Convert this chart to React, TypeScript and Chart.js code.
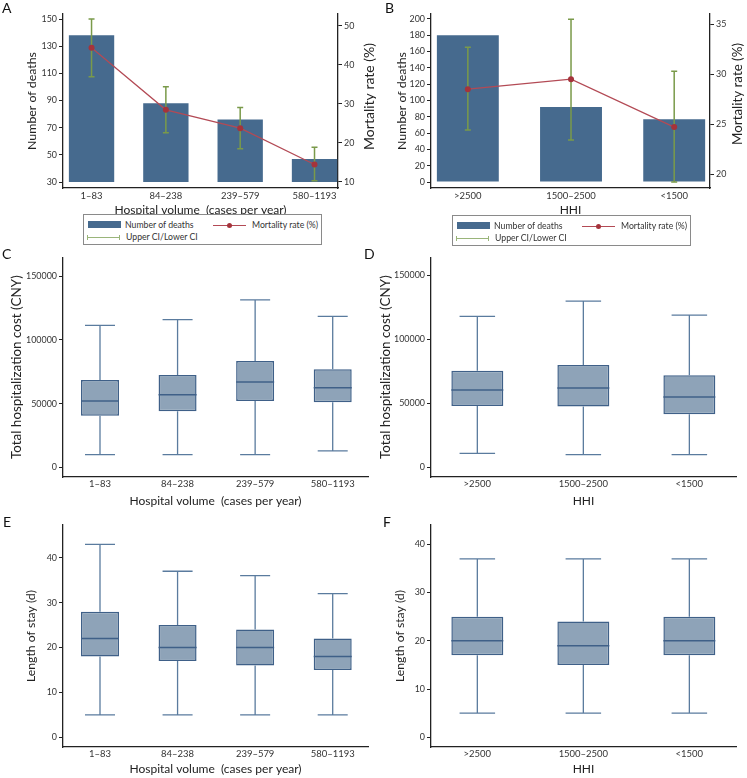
import React, { useEffect, useRef } from "react";
import { Chart, registerables } from "chart.js";
Chart.register(...registerables);

const FONT = "Lato, 'Noto Sans', sans-serif";

// ---------- data ----------
const volumeCats = ["1–83", "84–238", "239–579", "580–1193"];
const hhiCats = [">2500", "1500–2500", "<1500"];

const deathsA = [138, 88, 76, 47];
const mortA = [44.4, 28.5, 23.8, 14.5];
const ciLowA = [37.0, 22.6, 18.5, 10.3];
const ciHighA = [51.8, 34.4, 29.1, 18.9];

const deathsB = [180, 92, 77];
const mortB = [28.5, 29.5, 24.7];
const ciLowB = [24.4, 23.4, 19.2];
const ciHighB = [32.7, 35.5, 30.3];

const costVolMin = [10000, 10000, 10000, 13000];
const costVolQ1 = [40500, 44000, 52000, 51000];
const costVolMed = [52000, 57000, 67000, 62500];
const costVolQ3 = [68500, 72500, 83500, 77000];
const costVolMax = [111500, 116000, 131500, 118500];

const costHhiMin = [11000, 10000, 10000];
const costHhiQ1 = [48000, 47500, 41500];
const costHhiMed = [60500, 62000, 55000];
const costHhiQ3 = [75500, 80000, 72000];
const costHhiMax = [118000, 130000, 119000];

const losVolMin = [5, 5, 5, 5];
const losVolQ1 = [18, 17, 16, 15];
const losVolMed = [22, 20, 20, 18];
const losVolQ3 = [28, 25, 24, 22];
const losVolMax = [43, 37, 36, 32];

const losHhiMin = [5, 5, 5];
const losHhiQ1 = [17, 15, 17];
const losHhiMed = [20, 19, 20];
const losHhiQ3 = [25, 24, 25];
const losHhiMax = [37, 37, 37];

const ticksDeathsA = [30, 50, 70, 90, 110, 130, 150];
const ticksMortA = [10, 20, 30, 40, 50];
const ticksDeathsB = [0, 20, 40, 60, 80, 100, 120, 140, 160, 180, 200];
const ticksMortB = [20, 25, 30, 35];
const ticksCost = [0, 50000, 100000, 150000];
const ticksLos = [0, 10, 20, 30, 40];

const VOL_TITLE = "Hospital volume  (cases per year)";
const HHI_TITLE = "HHI";
const DEATHS_TITLE = "Number of deaths";
const MORT_TITLE = "Mortality rate (%)";
const COST_TITLE = "Total hospitalization cost (CNY)";
const LOS_TITLE = "Length of stay (d)";

// ---------- styles ----------
const BAR = "#466a8e";
const LINE_RED = "#b34a55";
const DOT_RED = "#a5333b";
const CI_GREEN = "#7a9a4a";
const CI_LEGEND = "#9ab57a";
const BOX_FILL = "#8ea3b8";
const BOX_EDGE = "#3f6088";
const WHISKER = "#5a7b9e";
const AXIS = "#222";
const TXT = "#333";

// font size so that a text gets a given rendered width
let measureCtx: CanvasRenderingContext2D | null = null;
function fit(text: string, width: number): number {
  if (!measureCtx) measureCtx = document.createElement("canvas").getContext("2d");
  if (!measureCtx) return 12;
  measureCtx.font = `100px ${FONT}`;
  const w = measureCtx.measureText(text).width;
  return (100 * width) / w;
}

// ---------- plugins ----------
const ciPlugin = {
  id: "ciBars",
  afterDatasetDraw(chart: any, args: any, opts: any) {
    if (!opts || !opts.low || args.index !== opts.afterIndex) return;
    const ctx = chart.ctx;
    const xs = chart.scales.x;
    const ys = chart.scales[opts.yAxis];
    ctx.save();
    ctx.strokeStyle = opts.color;
    ctx.lineWidth = opts.lineWidth;
    opts.low.forEach((lo: number, i: number) => {
      const x = xs.getPixelForValue(i);
      const y1 = ys.getPixelForValue(lo);
      const y2 = ys.getPixelForValue(opts.high[i]);
      ctx.beginPath();
      ctx.moveTo(x, y1);
      ctx.lineTo(x, y2);
      ctx.moveTo(x - opts.cap / 2, y1);
      ctx.lineTo(x + opts.cap / 2, y1);
      ctx.moveTo(x - opts.cap / 2, y2);
      ctx.lineTo(x + opts.cap / 2, y2);
      ctx.stroke();
    });
    ctx.restore();
  },
};

const boxPlugin = {
  id: "boxParts",
  afterDatasetsDraw(chart: any, _args: any, opts: any) {
    if (!opts || !opts.med) return;
    const ctx = chart.ctx;
    const xs = chart.scales.x;
    const ys = chart.scales.y;
    ctx.save();
    opts.med.forEach((m: number, i: number) => {
      const x = xs.getPixelForValue(i);
      const cl = xs.getPixelForValue(i - opts.capW / 2);
      const cr = xs.getPixelForValue(i + opts.capW / 2);
      const bl = xs.getPixelForValue(i - opts.boxW / 2);
      const br = xs.getPixelForValue(i + opts.boxW / 2);
      const yMin = ys.getPixelForValue(opts.min[i]);
      const yQ1 = ys.getPixelForValue(opts.q1[i]);
      const yQ3 = ys.getPixelForValue(opts.q3[i]);
      const yMax = ys.getPixelForValue(opts.max[i]);
      const yMed = ys.getPixelForValue(m);
      ctx.strokeStyle = WHISKER;
      ctx.lineWidth = 1.3;
      ctx.beginPath();
      ctx.moveTo(x, yQ1);
      ctx.lineTo(x, yMin);
      ctx.moveTo(cl, yMin);
      ctx.lineTo(cr, yMin);
      ctx.moveTo(x, yQ3);
      ctx.lineTo(x, yMax);
      ctx.moveTo(cl, yMax);
      ctx.lineTo(cr, yMax);
      ctx.stroke();
      ctx.strokeStyle = BOX_EDGE;
      ctx.lineWidth = 1.5;
      ctx.beginPath();
      ctx.moveTo(bl, yMed);
      ctx.lineTo(br, yMed);
      ctx.stroke();
    });
    ctx.restore();
  },
};

const sideTitlePlugin = {
  id: "sideTitle",
  afterDraw(chart: any, _args: any, opts: any) {
    if (!opts || !opts.text) return;
    const ctx = chart.ctx;
    ctx.save();
    ctx.translate(opts.x, opts.y);
    ctx.rotate(-Math.PI / 2);
    ctx.font = `${opts.size}px ${FONT}`;
    ctx.fillStyle = AXIS;
    ctx.textAlign = "center";
    ctx.textBaseline = "middle";
    ctx.fillText(opts.text, 0, 0);
    ctx.restore();
  },
};

// ---------- scale helpers ----------
function yScale(o: any) {
  const ySize = fit("150000", 31);
  return {
    type: "linear",
    position: o.position || "left",
    min: o.min,
    max: o.max,
    afterBuildTicks: (s: any) => {
      s.ticks = o.ticks.map((v: number) => ({ value: v }));
    },
    afterFit: (s: any) => {
      s.width = o.width;
    },
    grid: {
      display: true,
      drawOnChartArea: false,
      drawTicks: true,
      tickLength: 4,
      color: AXIS,
      lineWidth: 1,
    },
    border: { display: true, color: AXIS, width: 1.3 },
    ticks: {
      font: { family: FONT, size: ySize },
      color: TXT,
      padding: 2,
      callback: (v: number) => String(v),
    },
    title: o.title
      ? {
          display: true,
          text: o.title,
          font: { family: FONT, size: o.titleSize },
          color: AXIS,
          padding: { top: o.titleCenter - 0.6 * o.titleSize, bottom: 0 },
        }
      : { display: false },
  };
}

function xScale(o: any) {
  const xSize = fit("580–1193", 44);
  const tSize = fit(VOL_TITLE, 172.5);
  return {
    type: "linear",
    offset: false,
    min: o.min,
    max: o.max,
    afterBuildTicks: (s: any) => {
      s.ticks = o.cats.map((_: string, i: number) => ({ value: i }));
    },
    afterFit: (s: any) => {
      s.height = o.height;
    },
    grid: { display: false, drawTicks: false, offset: false },
    border: { display: true, color: AXIS, width: 1.3 },
    ticks: {
      font: { family: FONT, size: xSize },
      color: TXT,
      padding: o.labelCenter - 0.6 * xSize,
      autoSkip: false,
      maxRotation: 0,
      callback: (v: number) => o.cats[v] ?? "",
    },
    title: {
      display: true,
      text: o.title,
      font: { family: FONT, size: tSize },
      color: AXIS,
      padding: { top: 0, bottom: o.titleFromBottom - 0.6 * tSize },
    },
  };
}

function comboConfig(p: any) {
  return {
    type: "bar",
    data: {
      datasets: [
        {
          type: "bar",
          data: p.deaths.map((d: number, i: number) => ({ x: i, y: [p.base, d] })),
          backgroundColor: BAR,
          borderWidth: 0,
          barPercentage: p.barPct,
          categoryPercentage: 1,
          yAxisID: "y",
          order: 1,
        },
        {
          type: "line",
          data: p.mort.map((m: number, i: number) => ({ x: i, y: m })),
          borderColor: LINE_RED,
          borderWidth: 1.2,
          pointRadius: 3,
          pointBackgroundColor: DOT_RED,
          pointBorderColor: DOT_RED,
          pointBorderWidth: 0,
          yAxisID: "y1",
          order: 0,
        },
      ],
    },
    options: {
      responsive: false,
      animation: false,
      layout: { padding: { top: p.topPad, left: 0, right: 0, bottom: 0 } },
      plugins: {
        legend: { display: false },
        tooltip: { enabled: false },
        ciBars: {
          low: p.ciLow,
          high: p.ciHigh,
          yAxis: "y1",
          afterIndex: 0,
          color: CI_GREEN,
          lineWidth: 1.5,
          cap: 6,
        },
        sideTitle: { text: MORT_TITLE, x: p.rtX, y: p.rtY, size: fit(MORT_TITLE, p.rtLen) },
      },
      scales: {
        x: xScale({
          min: p.xMin, max: p.xMax, cats: p.cats, height: p.xH, title: p.xTitle,
          labelCenter: p.xLabelCenter, titleFromBottom: p.xTitleFromBottom,
        }),
        y: yScale({
          min: p.yMin,
          max: p.yMax,
          ticks: p.yTicks,
          width: p.leftW,
          title: DEATHS_TITLE,
          titleSize: fit(DEATHS_TITLE, 98),
          titleCenter: p.ltCenter,
        }),
        y1: yScale({
          position: "right",
          min: p.y1Min,
          max: p.y1Max,
          ticks: p.y1Ticks,
          width: p.rightW,
        }),
      },
    },
    plugins: [ciPlugin, sideTitlePlugin],
  };
}

function boxConfig(p: any) {
  return {
    type: "bar",
    data: {
      datasets: [
        {
          data: p.q1.map((q: number, i: number) => ({ x: i, y: [q, p.q3[i]] })),
          backgroundColor: BOX_FILL,
          borderColor: BOX_EDGE,
          borderWidth: 1.5,
          borderSkipped: false,
          barPercentage: p.boxW,
          categoryPercentage: 1,
        },
      ],
    },
    options: {
      responsive: false,
      animation: false,
      layout: { padding: { top: p.topPad, left: 0, right: p.rightPad, bottom: 0 } },
      plugins: {
        legend: { display: false },
        tooltip: { enabled: false },
        boxParts: {
          min: p.min,
          q1: p.q1,
          med: p.med,
          q3: p.q3,
          max: p.max,
          boxW: p.boxW,
          capW: p.capW,
        },
      },
      scales: {
        x: xScale({
          min: p.xMin, max: p.xMax, cats: p.cats, height: p.xH, title: p.xTitle,
          labelCenter: p.xLabelCenter, titleFromBottom: p.xTitleFromBottom,
        }),
        y: yScale({
          min: p.yMin,
          max: p.yMax,
          ticks: p.yTicks,
          width: p.leftW,
          title: p.yTitle,
          titleSize: fit(p.yTitle, p.yTitleLen),
          titleCenter: p.ltCenter,
        }),
      },
    },
    plugins: [boxPlugin],
  };
}

// canvas A/B: height 222, plot bottom 188 ; C/D: top 250, height 262, plot bottom 477 ; E/F: top 515, height 263, plot bottom 747
const configA = () =>
  comboConfig({
    cats: volumeCats, deaths: deathsA, base: 30, mort: mortA, ciLow: ciLowA, ciHigh: ciHighA,
    yMin: 25.6, yMax: 153.7, yTicks: ticksDeathsA,
    y1Min: 8.46, y1Max: 53.07, y1Ticks: ticksMortA,
    xMin: -0.384, xMax: 3.316, barPct: 0.61,
    leftW: 63, rightW: 42, topPad: 14, xH: 34, xTitle: VOL_TITLE, ltCenter: 32,
    xLabelCenter: 8.3, xTitleFromBottom: 11.5,
    rtX: 369.5, rtY: 96.5, rtLen: 107,
  });

const configB = () =>
  comboConfig({
    cats: hhiCats, deaths: deathsB, base: 0, mort: mortB, ciLow: ciLowB, ciHigh: ciHighB,
    yMin: -7.35, yMax: 206.1, yTicks: ticksDeathsB,
    y1Min: 18.6, y1Max: 36.03, y1Ticks: ticksMortB,
    xMin: -0.357, xMax: 2.347, barPct: 0.6,
    leftW: 61, rightW: 37, topPad: 14, xH: 34, xTitle: HHI_TITLE, ltCenter: 32,
    xLabelCenter: 8.3, xTitleFromBottom: 12,
    rtX: 368, rtY: 94, rtLen: 102,
  });

const configC = () =>
  boxConfig({
    cats: volumeCats, min: costVolMin, q1: costVolQ1, med: costVolMed, q3: costVolQ3, max: costVolMax,
    yMin: -7566, yMax: 164820, yTicks: ticksCost,
    xMin: -0.477, xMax: 3.455, boxW: 0.49, capW: 0.387,
    leftW: 63, rightPad: 12, topPad: 6, xH: 35, xTitle: VOL_TITLE,
    xLabelCenter: 6.5, xTitleFromBottom: 11,
    yTitle: COST_TITLE, yTitleLen: 184, ltCenter: 17,
  });

const configD = () =>
  boxConfig({
    cats: hhiCats, min: costHhiMin, q1: costHhiQ1, med: costHhiMed, q3: costHhiQ3, max: costHhiMax,
    yMin: -7540, yMax: 164220, yTicks: ticksCost,
    xMin: -0.437, xMax: 2.44, boxW: 0.49, capW: 0.335,
    leftW: 61, rightPad: 11, topPad: 6, xH: 35, xTitle: HHI_TITLE,
    xLabelCenter: 6.5, xTitleFromBottom: 11,
    yTitle: COST_TITLE, yTitleLen: 184, ltCenter: 16,
  });

const configE = () =>
  boxConfig({
    cats: volumeCats, min: losVolMin, q1: losVolQ1, med: losVolMed, q3: losVolQ3, max: losVolMax,
    yMin: -2.16, yMax: 47.3, yTicks: ticksLos,
    xMin: -0.477, xMax: 3.455, boxW: 0.49, capW: 0.387,
    leftW: 63, rightPad: 12, topPad: 10, xH: 31, xTitle: VOL_TITLE,
    xLabelCenter: 6.5, xTitleFromBottom: 8.5,
    yTitle: LOS_TITLE, yTitleLen: 92, ltCenter: 31.3,
  });

const configF = () =>
  boxConfig({
    cats: hhiCats, min: losHhiMin, q1: losHhiQ1, med: losHhiMed, q3: losHhiQ3, max: losHhiMax,
    yMin: -2.0, yMax: 44.0, yTicks: ticksLos,
    xMin: -0.437, xMax: 2.44, boxW: 0.49, capW: 0.335,
    leftW: 61, rightPad: 11, topPad: 10, xH: 31, xTitle: HHI_TITLE,
    xLabelCenter: 6.5, xTitleFromBottom: 8.5,
    yTitle: LOS_TITLE, yTitleLen: 92, ltCenter: 30,
  });

function ChartBox(props: { left: number; top: number; width: number; height: number; make: () => any }) {
  const ref = useRef<HTMLCanvasElement>(null);
  useEffect(() => {
    const chart = new Chart(ref.current as HTMLCanvasElement, props.make());
    return () => chart.destroy();
  }, []);
  return (
    <canvas
      ref={ref}
      width={props.width}
      height={props.height}
      style={{ position: "absolute", left: props.left, top: props.top, width: props.width, height: props.height }}
    />
  );
}

function LegendBox(props: { left: number; top: number }) {
  const size = fit("Number of deaths", 69);
  const txt = (left: number, cy: number, s: string) => (
    <div
      style={{
        position: "absolute",
        left,
        top: cy - 7,
        height: 14,
        lineHeight: "14px",
        fontSize: size,
        fontFamily: FONT,
        color: TXT,
        whiteSpace: "pre",
      }}
    >
      {s}
    </div>
  );
  return (
    <div
      style={{
        position: "absolute",
        left: props.left,
        top: props.top,
        width: 239,
        height: 31,
        border: "1px solid #8a8a8a",
        boxSizing: "border-box",
        background: "#fff",
      }}
    >
      <div style={{ position: "absolute", left: 4, top: 6, width: 33, height: 7, background: BAR }} />
      {txt(41, 10, "Number of deaths")}
      <div style={{ position: "absolute", left: 129, top: 10, width: 33, height: 1, background: LINE_RED }} />
      <div
        style={{ position: "absolute", left: 143, top: 8, width: 5, height: 5, borderRadius: 3, background: DOT_RED }}
      />
      {txt(168, 10, "Mortality rate (%)")}
      <div style={{ position: "absolute", left: 3, top: 22, width: 33, height: 1, background: CI_LEGEND }} />
      <div style={{ position: "absolute", left: 3, top: 20, width: 1, height: 5, background: CI_LEGEND }} />
      <div style={{ position: "absolute", left: 35, top: 20, width: 1, height: 5, background: CI_LEGEND }} />
      {txt(42, 22, "Upper CI/Lower CI")}
    </div>
  );
}

function Letter(props: { left: number; top: number; ch: string }) {
  return (
    <div
      style={{
        position: "absolute",
        left: props.left,
        top: props.top,
        fontFamily: FONT,
        fontSize: 14,
        lineHeight: "14px",
        color: "#111",
      }}
    >
      {props.ch}
    </div>
  );
}

export default function App() {
  return (
    <div
      style={{ position: "fixed", left: 0, top: 0, width: 747, height: 778, background: "#fff", overflow: "hidden" }}
    >
      <ChartBox left={0} top={0} width={380} height={222} make={configA} />
      <ChartBox left={370} top={0} width={377} height={222} make={configB} />
      <ChartBox left={0} top={250} width={380} height={262} make={configC} />
      <ChartBox left={370} top={250} width={377} height={262} make={configD} />
      <ChartBox left={0} top={515} width={380} height={263} make={configE} />
      <ChartBox left={370} top={515} width={377} height={263} make={configF} />
      <LegendBox left={83} top={214} />
      <LegendBox left={452} top={215} />
      <Letter left={2} top={1} ch="A" />
      <Letter left={385} top={1} ch="B" />
      <Letter left={2} top={247} ch="C" />
      <Letter left={364} top={247} ch="D" />
      <Letter left={3} top={515} ch="E" />
      <Letter left={383} top={515} ch="F" />
    </div>
  );
}
